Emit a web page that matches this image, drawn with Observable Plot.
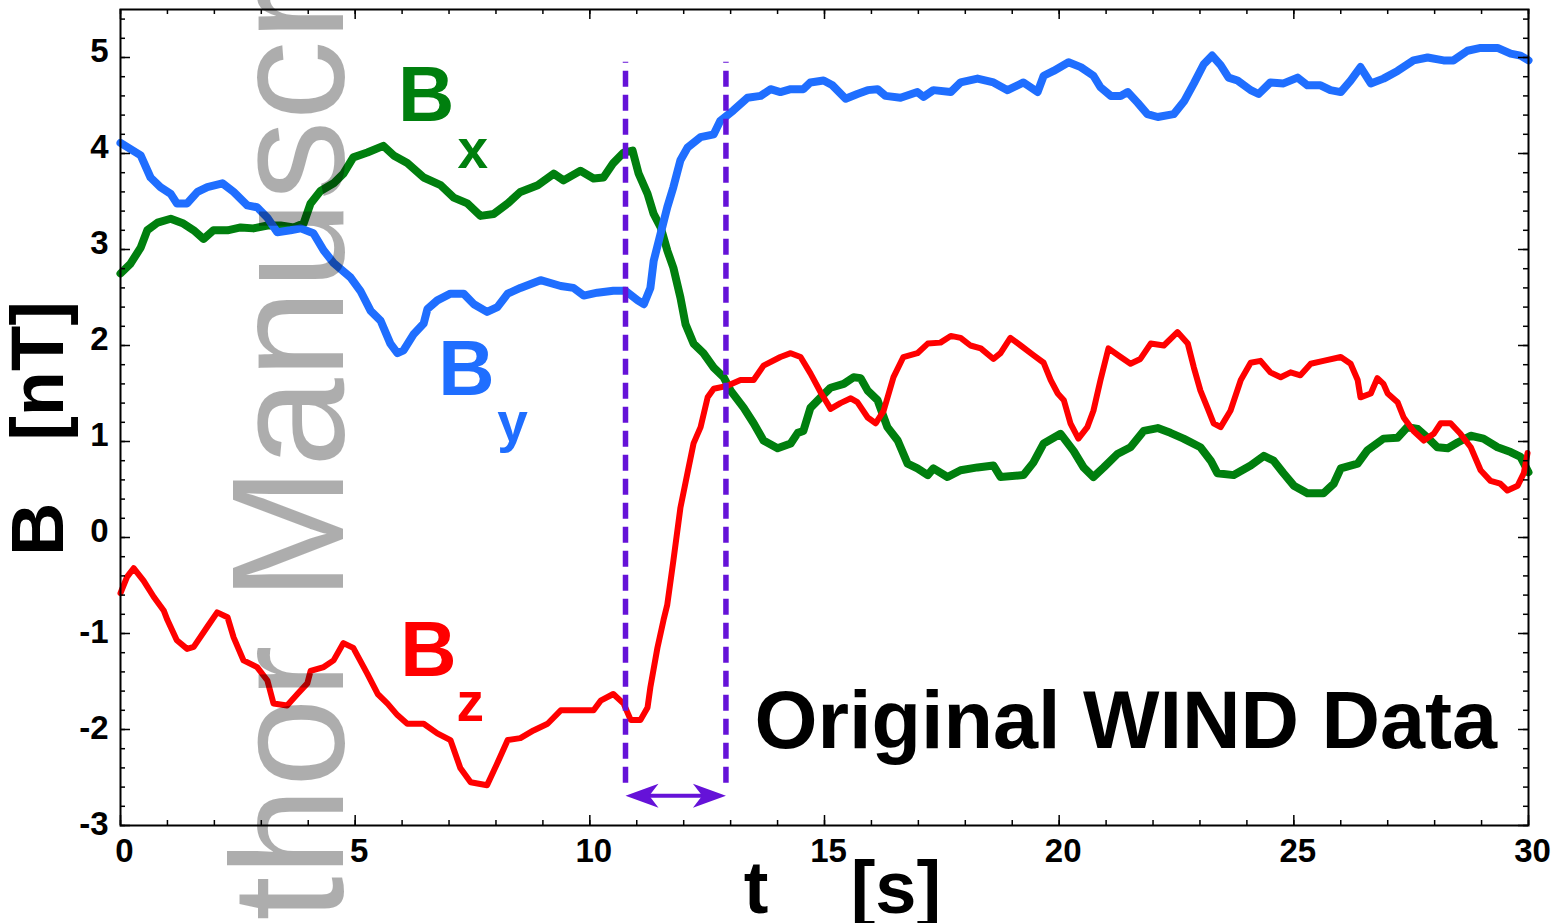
<!DOCTYPE html>
<html><head><meta charset="utf-8">
<script src="https://cdn.jsdelivr.net/npm/d3@7"></script>
<script src="https://cdn.jsdelivr.net/npm/@observablehq/plot@0.6"></script>
<style>html,body{margin:0;padding:0;background:#fff;overflow:hidden}</style>
</head><body><div id="chart"></div>
<script>
// ---- data: [t (s), B (nT)] ----
const Bx = [[0,2.75],[0.21,2.85],[0.43,3.02],[0.57,3.2],[0.79,3.28],[1.07,3.32],[1.34,3.27],[1.56,3.2],[1.77,3.11],[1.98,3.2],[2.28,3.2],[2.56,3.23],[2.83,3.22],[3.13,3.25],[3.41,3.25],[3.69,3.23],[3.9,3.27],[4.05,3.48],[4.26,3.61],[4.54,3.69],[4.75,3.79],[4.96,3.96],[5.26,4.01],[5.6,4.08],[5.82,3.98],[6.11,3.9],[6.46,3.75],[6.82,3.67],[7.1,3.54],[7.39,3.48],[7.67,3.35],[7.95,3.37],[8.25,3.48],[8.52,3.6],[8.89,3.67],[9.23,3.79],[9.44,3.72],[9.8,3.82],[10.08,3.74],[10.29,3.75],[10.5,3.9],[10.72,4.01],[10.91,4.03],[11.04,3.79],[11.23,3.58],[11.36,3.37],[11.51,3.23],[11.65,2.99],[11.78,2.81],[11.93,2.5],[12.04,2.22],[12.21,2.02],[12.42,1.92],[12.64,1.77],[12.85,1.67],[13.0,1.53],[13.28,1.35],[13.49,1.19],[13.7,1.01],[14.0,0.93],[14.28,0.98],[14.43,1.09],[14.55,1.11],[14.7,1.35],[14.92,1.46],[15.13,1.56],[15.41,1.6],[15.62,1.67],[15.77,1.66],[15.92,1.53],[16.13,1.43],[16.34,1.15],[16.56,1.01],[16.77,0.77],[16.98,0.72],[17.2,0.65],[17.32,0.72],[17.62,0.63],[17.9,0.7],[18.26,0.73],[18.6,0.75],[18.75,0.63],[19.24,0.65],[19.45,0.78],[19.67,0.98],[20.03,1.08],[20.31,0.9],[20.52,0.73],[20.73,0.63],[20.95,0.73],[21.24,0.87],[21.52,0.94],[21.8,1.11],[22.1,1.14],[22.37,1.09],[22.65,1.03],[23.01,0.94],[23.23,0.8],[23.37,0.67],[23.72,0.65],[24.08,0.75],[24.36,0.85],[24.57,0.8],[24.78,0.67],[25.0,0.54],[25.29,0.46],[25.63,0.46],[25.85,0.56],[26.0,0.72],[26.36,0.77],[26.57,0.91],[26.91,1.03],[27.21,1.04],[27.42,1.15],[27.64,1.13],[27.85,1.04],[28.06,0.94],[28.28,0.93],[28.49,0.99],[28.77,1.06],[29.04,1.03],[29.34,0.94],[29.62,0.89],[29.83,0.84],[30,0.68]];

const By = [[0,4.11],[0.43,3.98],[0.64,3.75],[0.85,3.65],[1.07,3.58],[1.2,3.48],[1.42,3.48],[1.64,3.6],[1.85,3.65],[2.17,3.69],[2.41,3.6],[2.7,3.46],[2.91,3.44],[3.13,3.33],[3.34,3.18],[3.62,3.2],[3.84,3.22],[4.11,3.17],[4.33,2.99],[4.54,2.86],[4.9,2.71],[5.11,2.57],[5.33,2.36],[5.54,2.26],[5.75,2.02],[5.9,1.92],[6.03,1.95],[6.25,2.12],[6.46,2.23],[6.54,2.38],[6.75,2.47],[7.03,2.54],[7.31,2.54],[7.53,2.43],[7.81,2.35],[8.03,2.4],[8.25,2.54],[8.52,2.6],[8.95,2.68],[9.38,2.62],[9.65,2.6],[9.87,2.52],[10.16,2.55],[10.5,2.57],[10.76,2.57],[11.02,2.47],[11.15,2.43],[11.29,2.6],[11.36,2.88],[11.51,3.17],[11.65,3.44],[11.78,3.65],[11.93,3.93],[12.08,4.06],[12.36,4.17],[12.64,4.2],[12.78,4.34],[13.06,4.45],[13.36,4.58],[13.64,4.6],[13.85,4.67],[14.06,4.64],[14.28,4.67],[14.55,4.67],[14.7,4.74],[14.98,4.76],[15.17,4.71],[15.45,4.57],[15.7,4.62],[15.92,4.66],[16.13,4.67],[16.3,4.6],[16.62,4.58],[16.98,4.64],[17.11,4.59],[17.32,4.66],[17.69,4.64],[17.9,4.74],[18.26,4.78],[18.6,4.74],[18.9,4.66],[19.24,4.74],[19.54,4.64],[19.67,4.81],[19.88,4.86],[20.2,4.95],[20.46,4.9],[20.73,4.81],[20.88,4.69],[21.1,4.6],[21.31,4.6],[21.46,4.64],[21.67,4.53],[21.88,4.41],[22.1,4.38],[22.44,4.41],[22.67,4.55],[22.87,4.73],[23.08,4.93],[23.26,5.02],[23.44,4.92],[23.61,4.79],[23.8,4.76],[24.08,4.66],[24.25,4.62],[24.5,4.74],[24.78,4.73],[25.08,4.79],[25.29,4.71],[25.57,4.71],[25.78,4.66],[26.0,4.64],[26.21,4.76],[26.42,4.9],[26.64,4.73],[26.91,4.78],[27.21,4.86],[27.55,4.97],[27.85,5.0],[28.19,4.97],[28.4,4.97],[28.7,5.07],[28.98,5.1],[29.34,5.1],[29.62,5.04],[29.83,5.02],[30,4.97]];

const Bz = [[0,-0.58],[0.14,-0.41],[0.28,-0.32],[0.49,-0.45],[0.71,-0.62],[0.92,-0.76],[1.0,-0.86],[1.2,-1.07],[1.42,-1.16],[1.56,-1.14],[1.85,-0.93],[2.06,-0.78],[2.28,-0.83],[2.41,-1.04],[2.62,-1.28],[2.91,-1.35],[3.13,-1.49],[3.26,-1.73],[3.55,-1.75],[3.77,-1.63],[3.98,-1.52],[4.05,-1.39],[4.33,-1.35],[4.54,-1.28],[4.75,-1.1],[4.96,-1.15],[5.26,-1.42],[5.48,-1.63],[5.69,-1.73],[5.9,-1.85],[6.11,-1.94],[6.46,-1.94],[6.75,-2.04],[7.03,-2.11],[7.24,-2.4],[7.46,-2.55],[7.81,-2.58],[8.03,-2.35],[8.25,-2.11],[8.52,-2.09],[8.8,-2.01],[9.1,-1.94],[9.38,-1.8],[9.74,-1.8],[10.08,-1.8],[10.23,-1.7],[10.5,-1.63],[10.72,-1.73],[10.87,-1.9],[11.08,-1.9],[11.23,-1.77],[11.29,-1.56],[11.44,-1.15],[11.57,-0.86],[11.65,-0.7],[11.78,-0.24],[11.93,0.31],[12.08,0.67],[12.21,0.98],[12.36,1.15],[12.51,1.46],[12.64,1.55],[12.93,1.58],[13.21,1.64],[13.49,1.64],[13.7,1.79],[14.06,1.88],[14.28,1.92],[14.49,1.88],[14.7,1.71],[14.92,1.51],[15.13,1.34],[15.34,1.4],[15.56,1.45],[15.7,1.41],[15.92,1.25],[16.09,1.19],[16.26,1.32],[16.47,1.67],[16.68,1.88],[16.98,1.92],[17.2,2.02],[17.47,2.03],[17.69,2.1],[17.9,2.08],[18.11,2.0],[18.33,1.97],[18.6,1.86],[18.75,1.92],[18.96,2.08],[19.18,2.0],[19.45,1.9],[19.67,1.82],[19.82,1.64],[19.97,1.5],[20.1,1.43],[20.24,1.19],[20.41,1.03],[20.6,1.15],[20.73,1.32],[20.88,1.64],[21.05,1.97],[21.31,1.88],[21.52,1.81],[21.73,1.86],[21.95,2.02],[22.23,2.0],[22.52,2.14],[22.74,2.02],[22.87,1.77],[23.01,1.53],[23.16,1.35],[23.29,1.19],[23.44,1.15],[23.65,1.32],[23.87,1.64],[24.08,1.82],[24.29,1.84],[24.5,1.72],[24.72,1.67],[24.93,1.72],[25.14,1.69],[25.36,1.81],[25.63,1.84],[26.0,1.88],[26.21,1.81],[26.36,1.64],[26.42,1.46],[26.64,1.5],[26.78,1.66],[26.91,1.6],[27.0,1.5],[27.21,1.41],[27.34,1.25],[27.55,1.11],[27.77,1.01],[27.98,1.08],[28.13,1.19],[28.34,1.19],[28.55,1.08],[28.77,0.94],[28.98,0.7],[29.19,0.59],[29.4,0.56],[29.55,0.49],[29.77,0.54],[29.9,0.67],[29.98,0.88]];

const xTicks = [0, 5, 10, 15, 20, 25, 30];
const yTicksPos = [0, 1, 2, 3, 4, 5];
const yTicksNeg = [-3, -2, -1];
const eventTimes = [10.76, 12.9];
const title = "Original WIND Data";
const xLabel = "t    [s]";
const yLabel = "B   [nT]";
const watermark = "Author Manuscript";

// ---- layout / style ----
const W = 1558, H = 923, mL = 120, mR = 30, mT = 9, mB = 98;
const pw = W - mL - mR, ph = H - mT - mB;
const cBlue = "#1f6eff", cGreen = "#007f0e", cRed = "#ff0000", cPurple = "#6512d8";
const xMinor = d3.range(0, 31, 1);
const yMinor = d3.range(-30, 56, 2).map(d => d / 10);
const arrowY = -2.69;
const fmt = d => String(d);

const head = dir => ({
  draw(ctx, size) {
    const r = Math.sqrt(size / Math.PI);
    const L = 3.3 * r, w = 1.2 * r, n = 0.72 * L;
    ctx.moveTo(0, 0);
    ctx.lineTo(-dir * L, -w);
    ctx.lineTo(-dir * n, 0);
    ctx.lineTo(-dir * L, w);
    ctx.closePath();
  }
});

const tx = d => d[0], ty = d => d[1];
const bold = {fontWeight: "bold"};

const chart = Plot.plot({
  width: W, height: H,
  marginLeft: mL, marginRight: mR, marginTop: mT, marginBottom: mB,
  x: {domain: [0, 30]},
  y: {domain: [-3, 5.5]},
  style: {fontFamily: "'Liberation Sans', Arial, sans-serif", background: "white", color: "black"},
  marks: [
    Plot.line(Bx, {x: tx, y: ty, stroke: cGreen, strokeWidth: 8, strokeLinejoin: "round"}),
    Plot.line(Bz, {x: tx, y: ty, stroke: cRed, strokeWidth: 6, strokeLinejoin: "round"}),
    Plot.line(By, {x: tx, y: ty, stroke: cBlue, strokeWidth: 8, strokeLinejoin: "round"}),
    Plot.ruleX(eventTimes, {x: d => d, y1: -2.56, y2: 4.95, stroke: cPurple, strokeWidth: 5.5, strokeDasharray: "16,8"}),
    Plot.ruleY([arrowY], {x1: eventTimes[0], x2: eventTimes[1], stroke: cPurple, strokeWidth: 4, insetLeft: 14, insetRight: 14}),
    Plot.dot([eventTimes[0]], {x: d => d, y: arrowY, r: 10, symbol: head(-1), fill: cPurple, stroke: "none"}),
    Plot.dot([eventTimes[1]], {x: d => d, y: arrowY, r: 10, symbol: head(1), fill: cPurple, stroke: "none"}),
    // frame and inward ticks
    Plot.frame({stroke: "black", strokeWidth: 2}),
    Plot.tickX(xMinor, {x: d => d, insetTop: ph - 5, stroke: "black", strokeWidth: 1.5}),
    Plot.tickX(xTicks, {x: d => d, insetTop: ph - 10, stroke: "black", strokeWidth: 1.5}),
    Plot.tickX(xMinor, {x: d => d, insetBottom: ph - 5, stroke: "black", strokeWidth: 1.5}),
    Plot.tickX(xTicks, {x: d => d, insetBottom: ph - 10, stroke: "black", strokeWidth: 1.5}),
    Plot.tickY(yMinor, {y: d => d, insetRight: pw - 5, stroke: "black", strokeWidth: 1.5}),
    Plot.tickY(yTicksPos.concat(yTicksNeg), {y: d => d, insetRight: pw - 10, stroke: "black", strokeWidth: 1.5}),
    Plot.tickY(yMinor, {y: d => d, insetLeft: pw - 5, stroke: "black", strokeWidth: 1.5}),
    Plot.tickY(yTicksPos.concat(yTicksNeg), {y: d => d, insetLeft: pw - 10, stroke: "black", strokeWidth: 1.5}),
    // tick labels
    Plot.axisX(xTicks, {tickSize: 0, tickPadding: 13, dx: 4, fontSize: 33, ...bold, tickFormat: fmt, label: null}),
    Plot.axisY(yTicksPos, {tickSize: 0, tickPadding: 12, dy: -6, fontSize: 33, ...bold, tickFormat: fmt, label: null}),
    Plot.axisY(yTicksNeg, {tickSize: 0, tickPadding: 12, dy: -1, fontSize: 33, ...bold, tickFormat: fmt, label: null}),
    // axis titles
    Plot.text([yLabel], {frameAnchor: "left", dx: -58, dy: 11, rotate: -90, textAnchor: "middle", lineAnchor: "bottom", fontSize: 74, ...bold, fill: "black"}),
    Plot.text([xLabel], {frameAnchor: "bottom", dx: 18, dy: 87, textAnchor: "middle", lineAnchor: "bottom", fontSize: 74, ...bold, fill: "black"}),
    // series labels
    Plot.text(["B"], {x: 5.91, y: 4.34, textAnchor: "start", lineAnchor: "bottom", fontSize: 78, ...bold, fill: cGreen}),
    Plot.text(["x"], {x: 7.18, y: 3.85, textAnchor: "start", lineAnchor: "bottom", fontSize: 55, ...bold, fill: cGreen}),
    Plot.text(["B"], {x: 6.77, y: 1.48, textAnchor: "start", lineAnchor: "bottom", fontSize: 78, ...bold, fill: cBlue}),
    Plot.text(["y"], {x: 8.03, y: 1.01, textAnchor: "start", lineAnchor: "bottom", fontSize: 55, ...bold, fill: cBlue}),
    Plot.text(["B"], {x: 5.96, y: -1.44, textAnchor: "start", lineAnchor: "bottom", fontSize: 78, ...bold, fill: cRed}),
    Plot.text(["z"], {x: 7.16, y: -1.91, textAnchor: "start", lineAnchor: "bottom", fontSize: 55, ...bold, fill: cRed}),
    Plot.text([title], {x: 13.51, y: -2.19, textAnchor: "start", lineAnchor: "bottom", fontSize: 81, ...bold, fill: "black"}),
    // watermark
    Plot.text([watermark], {frameAnchor: "bottom-left", dx: 222, dy: 291, rotate: -90, textAnchor: "start", lineAnchor: "bottom", fontSize: 160, fontWeight: "normal", fill: "black", fillOpacity: 0.32})
  ]
});
document.getElementById("chart").appendChild(chart);
</script>
</body></html>
